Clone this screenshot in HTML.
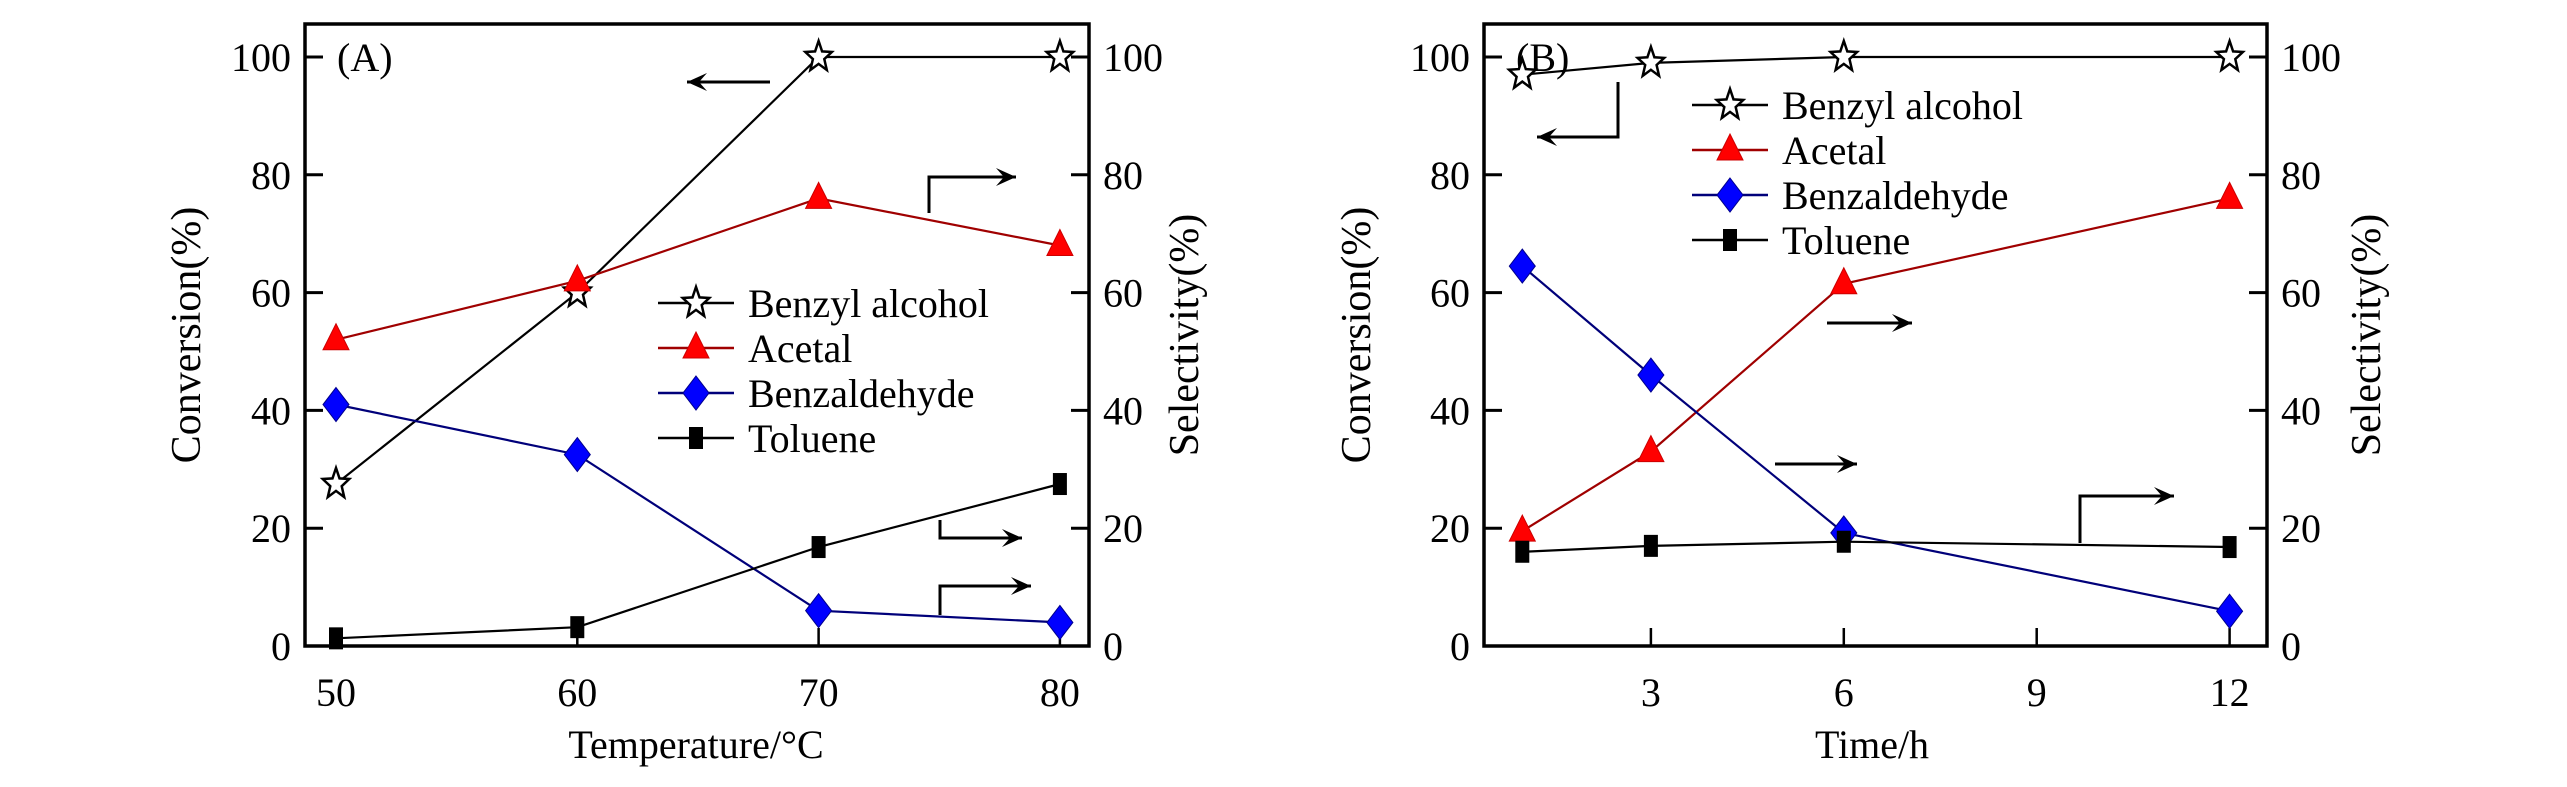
<!DOCTYPE html>
<html><head><meta charset="utf-8"><style>
html,body{margin:0;padding:0;background:#fff;}
svg{display:block;font-family:"Liberation Serif",serif;}
</style></head><body>
<svg id="chart" width="2567" height="787" viewBox="0 0 2567 787" xmlns="http://www.w3.org/2000/svg"></svg>
<script>
const tempCategories = [50, 60, 70, 80];
const tempBenzylAlcohol = [27.5, 60, 100, 100];
const tempAcetal = [52, 62, 76, 68];
const tempBenzaldehyde = [41, 32.5, 6, 4];
const tempToluene = [1.3, 3.2, 16.8, 27.5];
const timeCategories = [1, 3, 6, 12];
const timeBenzylAlcohol = [97, 99, 100, 100];
const timeAcetal = [19.5, 33, 61.5, 76];
const timeBenzaldehyde = [64.5, 46, 19.2, 5.9];
const timeToluene = [16, 17, 17.7, 16.8];
const yTicks = [0, 20, 40, 60, 80, 100];
const tempTicks = [50, 60, 70, 80];
const timeTicks = [3, 6, 9, 12];
const legendLabels = ["Benzyl alcohol", "Acetal", "Benzaldehyde", "Toluene"];

const NS = "http://www.w3.org/2000/svg";
const svg = document.getElementById('chart');
function mk(tag, attrs, parent) {
  const e = document.createElementNS(NS, tag);
  for (const k in attrs) e.setAttribute(k, attrs[k]);
  (parent || svg).appendChild(e);
  return e;
}
const Y0 = 646, Y100 = 57;
function yS(v) { return Y0 + (Y100 - Y0) * v / 100; }

function marker(g, type, x, y) {
  let m;
  if (type === 'star') {
    let pts = [];
    for (let i = 0; i < 10; i++) {
      const r = i % 2 ? 6 : 14, a = -Math.PI / 2 + i * Math.PI / 5;
      pts.push((x + r * Math.cos(a)).toFixed(1) + ',' + (y + r * 1.15 * Math.sin(a)).toFixed(1));
    }
    m = mk('polygon', {points: pts.join(' '), fill: '#fff', stroke: '#000', 'stroke-width': 2.5}, g);
  } else if (type === 'tri') {
    m = mk('polygon', {points: `${x},${y-16} ${x+13},${y+10} ${x-13},${y+10}`, fill: '#ff0000', stroke: '#c00', 'stroke-width': 1}, g);
  } else if (type === 'dia') {
    m = mk('polygon', {points: `${x},${y-17} ${x+13},${y} ${x},${y+17} ${x-13},${y}`, fill: '#0000ff', stroke: '#00008b', 'stroke-width': 1}, g);
  } else {
    m = mk('rect', {x: x - 7, y: y - 11, width: 14, height: 22, fill: '#000'}, g);
  }
  return m;
}

const series = [
  {name: 'benzyl-alcohol', type: 'star', color: '#000'},
  {name: 'acetal', type: 'tri', color: '#a00000'},
  {name: 'benzaldehyde', type: 'dia', color: '#00007a'},
  {name: 'toluene', type: 'sq', color: '#000'}
];

function arrow(g, pts, name) {
  const p = mk('polyline', {points: pts.map(q => q.join(',')).join(' '), fill: 'none', stroke: '#000', 'stroke-width': 3}, g);
  
  
  const a = pts[pts.length - 1], b = pts[pts.length - 2];
  const dir = Math.sign(a[0] - b[0]);
  const h = mk('polygon', {points: `${a[0]},${a[1]} ${a[0]-dir*20},${a[1]-9} ${a[0]-dir*12},${a[1]} ${a[0]-dir*20},${a[1]+9}`, fill: '#000'}, g);
  
  
}

function panel(opt) {
  const g = mk('g', {});
  
  
  const L = opt.left, R = opt.right;
  const xS = v => opt.x0 + (v - opt.v0) * opt.k;
  const box = mk('rect', {x: L, y: 24, width: R - L, height: Y0 - 24, fill: 'none', stroke: '#000', 'stroke-width': 3.5}, g);
  
  
  yTicks.forEach(t => {
    const y = yS(t);
    mk('line', {x1: L, x2: L + 18, y1: y, y2: y, stroke: '#000', 'stroke-width': 3}, g);
    mk('line', {x1: R, x2: R - 18, y1: y, y2: y, stroke: '#000', 'stroke-width': 3}, g);
    const tl = mk('text', {x: L - 14, y: y + 14, 'text-anchor': 'end', 'font-size': 40}, g);
    tl.textContent = t;
    
    
    const tr = mk('text', {x: R + 14, y: y + 14, 'text-anchor': 'start', 'font-size': 40}, g);
    tr.textContent = t;
    
    
  });
  opt.xticks.forEach(t => {
    const x = xS(t);
    mk('line', {x1: x, x2: x, y1: Y0, y2: Y0 - 18, stroke: '#000', 'stroke-width': 2.5}, g);
    const tx = mk('text', {x: x, y: Y0 + 60, 'text-anchor': 'middle', 'font-size': 40}, g);
    tx.textContent = t;
    
    
  });
  const xt = mk('text', {x: opt.xtitleX, y: 758, 'text-anchor': 'middle', 'font-size': 40}, g);
  xt.textContent = opt.xtitle;
  
  
  const yl = mk('text', {x: 0, y: 0, 'text-anchor': 'middle', 'font-size': 42, transform: `translate(${opt.ylX},335) rotate(-90)`}, g);
  yl.textContent = 'Conversion(%)';
  
  
  const yr = mk('text', {x: 0, y: 0, 'text-anchor': 'middle', 'font-size': 42, transform: `translate(${opt.yrX},335) rotate(-90)`}, g);
  yr.textContent = 'Selectivity(%)';
  
  
  const pl = mk('text', {x: L + 32, y: 71, 'font-size': 40}, g);
  pl.textContent = opt.label;
  
  

  opt.data.forEach((d, si) => {
    const s = series[si];
    const sg = mk('g', {}, g);
    
    
    const pts = d.map((v, i) => xS(opt.cats[i]).toFixed(1) + ',' + yS(v).toFixed(1));
    const ln = mk('polyline', {points: pts.join(' '), fill: 'none', stroke: s.color, 'stroke-width': 2.2}, sg);
    
    
    d.forEach((v, i) => {
      const m = marker(sg, s.type, xS(opt.cats[i]), yS(v));
      
      
    });
  });

  const lg = mk('g', {}, g);
  
  
  legendLabels.forEach((lab, i) => {
    const y = opt.legY + i * 45;
    const s = series[i];
    const e = mk('g', {}, lg);
    
    
    mk('line', {x1: opt.legX, x2: opt.legX + 76, y1: y, y2: y, stroke: s.color, 'stroke-width': 2.5}, e);
    marker(e, s.type, opt.legX + 38, y);
    const t = mk('text', {x: opt.legX + 90, y: y + 14, 'font-size': 40}, e);
    t.textContent = lab;
  });
  opt.arrows.forEach((a, i) => arrow(g, a, 'axis-arrow-' + (i + 1)));
}

panel({name: 'panel-a-temperature', left: 305, right: 1089, x0: 336, v0: 50, k: 24.13,
  cats: tempCategories, xticks: tempTicks, xtitle: 'Temperature/°C', xtitleX: 696, ylX: 200, yrX: 1198,
  label: '(A)', data: [tempBenzylAlcohol, tempAcetal, tempBenzaldehyde, tempToluene], legX: 658, legY: 303,
  arrows: [[[770, 82], [687, 82]], [[929, 213], [929, 177], [1016, 177]], [[940, 520], [940, 538], [1022, 538]], [[940, 615], [940, 586], [1031, 586]]]});

panel({name: 'panel-b-time', left: 1484, right: 2267, x0: 1458, v0: 0, k: 64.3,
  cats: timeCategories, xticks: timeTicks, xtitle: 'Time/h', xtitleX: 1872, ylX: 1370, yrX: 2380,
  label: '(B)', data: [timeBenzylAlcohol, timeAcetal, timeBenzaldehyde, timeToluene], legX: 1692, legY: 105,
  arrows: [[[1618, 82], [1618, 137], [1537, 137]], [[1827, 323], [1912, 323]], [[1775, 464], [1857, 464]], [[2080, 543], [2080, 496], [2174, 496]]]});
</script>
</body></html>
